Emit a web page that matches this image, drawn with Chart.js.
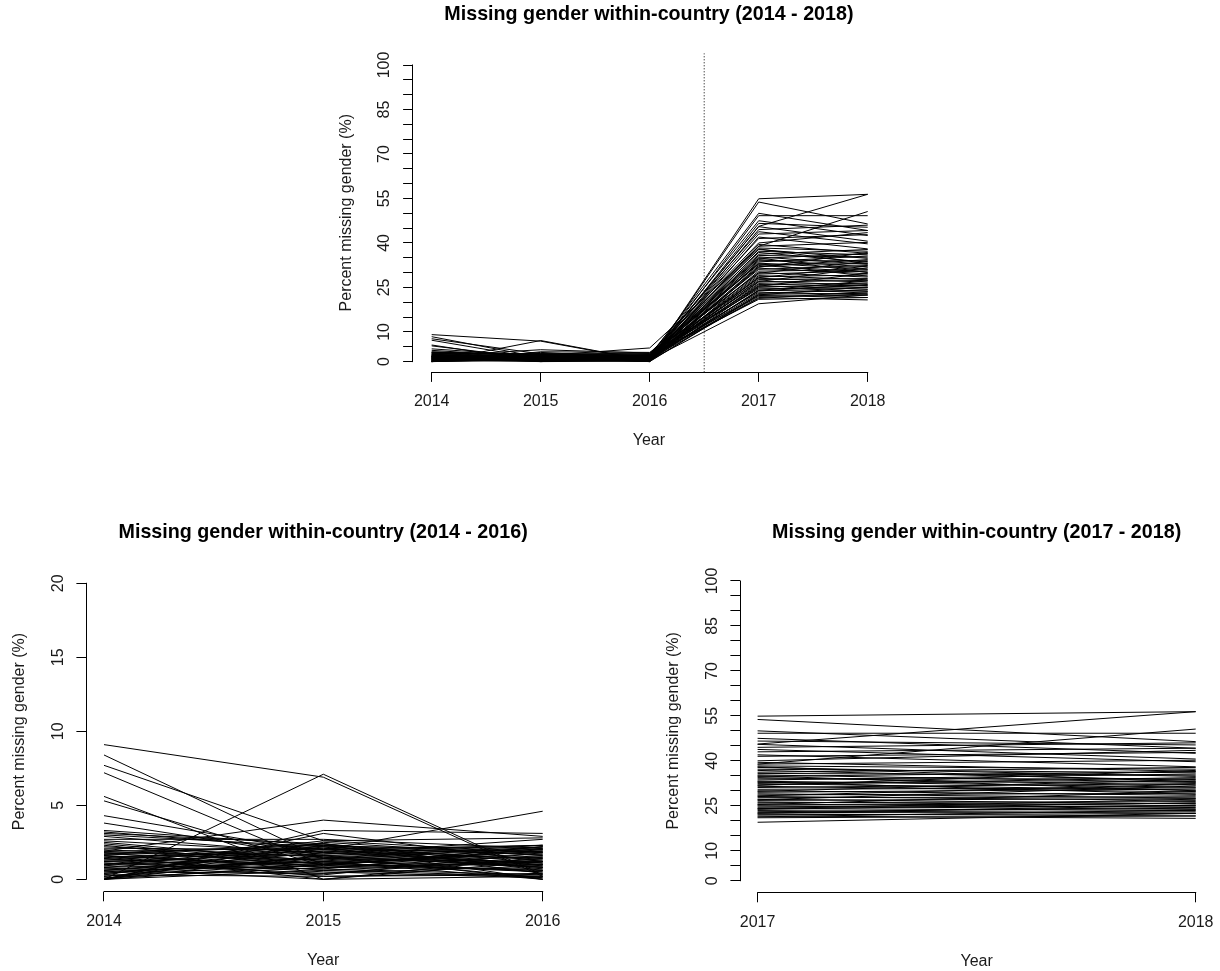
<!DOCTYPE html>
<html>
<head>
<meta charset="utf-8">
<style>
html, body { margin: 0; padding: 0; background: #ffffff; overflow: hidden; width: 1220px; height: 971px; }
canvas { position: absolute; }
</style>
<script src="https://cdn.jsdelivr.net/npm/chart.js@4.4.1/dist/chart.umd.min.js"></script>
</head>
<body>
<canvas id="cTop"></canvas>
<canvas id="cLeft"></canvas>
<canvas id="cRight"></canvas>
<script>
// ---------------- DATA ----------------
const years = [2014, 2015, 2016, 2017, 2018];

const pct2014 = [9.1,0.0,8.4,7.7,7.2,5.6,5.3,4.3,3.8,3.3,3.2,3.1,3.0,2.9,2.7,2.5,2.3,2.1,1.9,1.9,
                 1.8,1.8,1.7,1.7,1.6,1.6,1.5,1.4,1.3,1.2,1.1,1.0,0.9,0.8,0.7,0.6,0.5,0.4,0.3,0.2,
                 0.1,0.0,0.0,0.0,0.0,0.0,0.0,0.0,1.2,2.0,1.0,0.6,1.4,2.2,0.8,1.1,1.7,0.5,0.9,1.3,
                 0.3,1.5,0.4,2.6,0.7,1.9,0.2,1.6,1.0,2.4];
const pct2015 = [6.9,7.1,1.4,2.6,1.0,0.0,0.9,1.8,1.5,2.3,2.0,2.4,2.2,1.7,2.7,1.2,0.8,2.0,4.0,1.1,
                 1.6,0.6,2.3,1.3,0.9,0.0,1.9,0.5,2.1,1.0,0.7,1.4,2.4,0.3,1.2,1.8,0.4,1.5,0.2,1.1,
                 0.8,3.3,3.1,2.2,1.6,1.0,0.6,2.5,1.7,1.3,2.0,0.9,2.2,1.5,1.9,0.4,2.4,1.2,0.7,1.1,
                 2.3,0.2,1.4,1.8,0.0,2.1,1.6,0.8,2.6,1.0];
const pct2016 = [0.2,0.3,1.0,1.8,0.6,1.2,2.2,0.8,1.5,0.4,2.3,1.1,0.0,2.0,2.1,0.9,1.6,4.6,2.9,0.5,
                 1.9,1.3,0.7,2.2,1.0,0.2,1.4,0.1,1.7,2.0,0.3,1.2,0.6,1.8,0.0,2.3,0.9,1.1,0.4,1.5,
                 0.7,3.1,1.2,2.1,0.8,1.9,0.2,1.6,2.7,0.5,1.0,2.2,1.3,0.1,2.0,1.4,0.9,1.7,2.1,0.6,
                 1.8,0.3,2.3,1.1,1.5,0.8,0.0,1.2,2.8,1.9];
const pct2017 = [54.9,53.8,45.6,50.0,49.2,38.9,47.5,46.6,45.5,44.5,43.8,43.0,42.0,41.5,40.0,39.5,38.9,38.3,37.8,37.2,
                 36.8,36.2,35.8,35.3,34.8,34.4,34.0,33.6,33.2,32.8,32.4,32.0,31.5,31.1,30.5,30.0,29.5,29.0,28.6,28.1,
                 27.7,27.2,26.8,26.3,26.0,25.6,25.2,24.9,24.5,24.1,23.8,23.4,23.0,22.7,22.3,22.0,21.6,21.3,21.0,19.5,
                 35.0,31.8,29.8,27.0,25.4,24.0,22.5,38.0,33.0,28.3];
const pct2018 = [56.4,46.4,56.4,44.2,49.2,50.6,42.5,45.3,40.6,46.0,39.7,44.2,38.0,42.8,43.5,36.5,40.2,37.2,34.8,36.0,
                 33.5,37.8,35.2,32.8,36.4,31.9,34.0,35.6,31.2,33.0,30.2,34.4,29.6,32.4,31.0,28.5,30.6,27.6,29.2,26.8,
                 28.0,25.6,27.4,25.0,26.4,24.4,25.8,23.8,24.9,23.4,26.0,22.5,24.2,23.0,21.6,22.4,20.8,23.6,21.6,22.5,
                 30.0,36.8,33.8,31.6,29.8,27.2,25.2,33.0,28.8,32.2];

const xTicksAll   = [2014, 2015, 2016, 2017, 2018];
const xTicksEarly = [2014, 2015, 2016];
const xTicksLate  = [2017, 2018];
const yTicks100   = [0,5,10,15,20,25,30,35,40,45,50,55,60,65,70,75,80,85,90,95,100];
const yLabels100  = [0,10,25,40,55,70,85,100];
const yTicks20    = [0,5,10,15,20];
const yLabels20   = [0,5,10,15,20];
const cutoffYear  = 2016.5;

const titleTop   = 'Missing gender within-country (2014 - 2018)';
const titleLeft  = 'Missing gender within-country (2014 - 2016)';
const titleRight = 'Missing gender within-country (2017 - 2018)';
const xTitle = 'Year';
const yTitle = 'Percent missing gender (%)';

// ---------------- LAYOUT (page pixels) ----------------
const FONT = "'Liberation Sans', Arial, Helvetica, sans-serif";
const TICK_SIZE = 16, TITLE_SIZE = 19.7, TICK_LEN = 9.6, Y_W = 80;
const LAYOUT = {
  top:   {canvas: {left: 300, top: 0,   width: 640, height: 470}, xAxisPx: 372.3, yAxisPx: 412.7,
          xFirstPx: 431.7, xLastPx: 867.7, yLowPx: 361.6, yHighPx: 65.0, titleCenterY: 15},
  left:  {canvas: {left: 0,   top: 480, width: 600, height: 491}, xAxisPx: 891.7, yAxisPx: 86.0,
          xFirstPx: 104.0, xLastPx: 542.7, yLowPx: 879.3, yHighPx: 583.3, titleCenterY: 533},
  right: {canvas: {left: 620, top: 480, width: 600, height: 491}, xAxisPx: 892.7, yAxisPx: 740.0,
          xFirstPx: 757.6, xLastPx: 1195.7, yLowPx: 880.7, yHighPx: 581.0, titleCenterY: 533}
};
const Y_LABEL_OFF = 27.7;   // axis -> centre of tick labels
const Y_TITLE_OFF = 66.5;   // axis -> centre of axis title
const X_LABEL_OFF = 29.5;   // axis -> centre of tick labels
const X_TITLE_OFF = 68.5;   // axis -> centre of axis title

Chart.defaults.font.family = FONT;
Chart.defaults.color = '#151515';

const measureCtx = document.createElement('canvas').getContext('2d');
function textWidth(t, size) { measureCtx.font = size + 'px ' + FONT; return measureCtx.measureText(t).width; }

const yearValues = [pct2014, pct2015, pct2016, pct2017, pct2018];

const rAxisLines = {
  id: 'rAxisLines',
  afterDraw(chart) {
    const {ctx, chartArea: a, scales: {x, y}} = chart;
    const xl = Math.floor(a.left) + 0.5, yb = Math.floor(a.bottom) + 0.5;
    ctx.save();
    ctx.strokeStyle = '#000'; ctx.lineWidth = 1; ctx.lineCap = 'square';
    ctx.beginPath();
    ctx.moveTo(xl, y.getPixelForValue(y.ticks[0].value));
    ctx.lineTo(xl, y.getPixelForValue(y.ticks[y.ticks.length - 1].value));
    ctx.moveTo(x.getPixelForValue(x.ticks[0].value), yb);
    ctx.lineTo(x.getPixelForValue(x.ticks[x.ticks.length - 1].value), yb);
    ctx.stroke();
    ctx.restore();
  }
};

function buildPanel(canvasId, L, spec) {
  const cv = document.getElementById(canvasId);
  const c = L.canvas;
  cv.style.left = c.left + 'px'; cv.style.top = c.top + 'px';
  cv.style.width = c.width + 'px'; cv.style.height = c.height + 'px';
  cv.width = c.width; cv.height = c.height;

  const xFirst = spec.xTicks[0], xLast = spec.xTicks[spec.xTicks.length - 1];
  const yLow = spec.yTicks[0], yHigh = spec.yTicks[spec.yTicks.length - 1];
  const xppu = (L.xLastPx - L.xFirstPx) / (xLast - xFirst);
  const yppu = (L.yLowPx - L.yHighPx) / (yHigh - yLow);
  const areaLeft = L.yAxisPx, areaBottom = L.xAxisPx;
  const areaRight = L.xLastPx + 0.04 * (L.xLastPx - L.xFirstPx);
  const areaTop = L.yHighPx - 0.04 * (L.yLowPx - L.yHighPx);
  const xMin = xFirst - (L.xFirstPx - areaLeft) / xppu;
  const xMax = xLast + 0.04 * (xLast - xFirst);
  const yMin = yLow - (areaBottom - L.yLowPx) / yppu;
  const yMax = yHigh + 0.04 * (yHigh - yLow);

  const padLeft = areaLeft - c.left - Y_W;
  const padRight = c.left + c.width - areaRight;
  const xH = c.top + c.height - areaBottom;
  const titleLH = TITLE_SIZE * 1.2;
  const tPadTop = L.titleCenterY - c.top - titleLH / 2;
  const tPadBottom = areaTop - c.top - tPadTop - titleLH;
  const lh = TICK_SIZE * 1.2;
  const widest = Math.max(...spec.yLabels.map(v => textWidth(String(v), TICK_SIZE)));
  const yTickPad = Y_LABEL_OFF - TICK_LEN - widest / 2;
  const yTitlePad = Y_W - Y_TITLE_OFF - lh / 2;
  const xTickPad = X_LABEL_OFF - TICK_LEN - lh / 2;
  const xTitlePad = xH - X_TITLE_OFF - lh / 2;

  const idx = spec.xTicks.map(v => years.indexOf(v));
  const datasets = pct2014.map((_, i) => ({
    data: idx.map(k => ({x: years[k], y: yearValues[k][i]})),
    borderColor: '#000', borderWidth: 1, pointRadius: 0, fill: false, tension: 0
  }));
  if (spec.cutoff !== undefined) {
    datasets.push({
      data: [{x: spec.cutoff, y: yMin}, {x: spec.cutoff, y: yMax}],
      borderColor: '#000', borderWidth: 1, borderDash: [1, 2], pointRadius: 0, fill: false
    });
  }

  return new Chart(cv, {
    type: 'line',
    data: {datasets},
    plugins: [rAxisLines],
    options: {
      responsive: false, animation: false, devicePixelRatio: 1, events: [],
      layout: {padding: {left: padLeft, right: padRight, top: 0, bottom: 0}},
      plugins: {
        legend: {display: false}, tooltip: {enabled: false},
        title: {display: true, text: spec.title, fullSize: false, color: '#000',
                font: {size: TITLE_SIZE, weight: 'bold'}, padding: {top: tPadTop, bottom: tPadBottom}}
      },
      scales: {
        x: {
          type: 'linear', min: xMin, max: xMax,
          afterBuildTicks: s => { s.ticks = spec.xTicks.map(v => ({value: v})); },
          afterFit: s => { s.height = xH; s.paddingLeft = 0; s.paddingRight = 0; s.paddingTop = 0; s.paddingBottom = 0; },
          border: {display: false},
          grid: {display: true, drawOnChartArea: false, drawTicks: true, tickLength: TICK_LEN, color: '#000', lineWidth: 1},
          ticks: {autoSkip: false, maxRotation: 0, minRotation: 0, padding: xTickPad, color: '#1a1a1a',
                  font: {size: TICK_SIZE}, callback: v => String(v)},
          title: {display: true, text: xTitle, color: '#1a1a1a', font: {size: TICK_SIZE}, padding: {top: 0, bottom: xTitlePad}}
        },
        y: {
          type: 'linear', min: yMin, max: yMax,
          afterBuildTicks: s => { s.ticks = spec.yTicks.map(v => ({value: v})); },
          afterFit: s => { s.width = Y_W; s.paddingLeft = 0; s.paddingRight = 0; s.paddingTop = 0; s.paddingBottom = 0; },
          border: {display: false},
          grid: {display: true, drawOnChartArea: false, drawTicks: true, tickLength: TICK_LEN, color: '#000', lineWidth: 1},
          ticks: {autoSkip: false, minRotation: 90, maxRotation: 90, crossAlign: 'center', padding: yTickPad,
                  color: '#1a1a1a', font: {size: TICK_SIZE},
                  callback: v => spec.yLabels.includes(v) ? String(v) : ''},
          title: {display: true, text: yTitle, color: '#1a1a1a', font: {size: TICK_SIZE}, padding: {top: yTitlePad, bottom: 0}}
        }
      }
    }
  });
}

buildPanel('cTop', LAYOUT.top, {title: titleTop, xTicks: xTicksAll, yTicks: yTicks100, yLabels: yLabels100, cutoff: cutoffYear});
buildPanel('cLeft', LAYOUT.left, {title: titleLeft, xTicks: xTicksEarly, yTicks: yTicks20, yLabels: yLabels20});
buildPanel('cRight', LAYOUT.right, {title: titleRight, xTicks: xTicksLate, yTicks: yTicks100, yLabels: yLabels100});
</script>
</body>
</html>
